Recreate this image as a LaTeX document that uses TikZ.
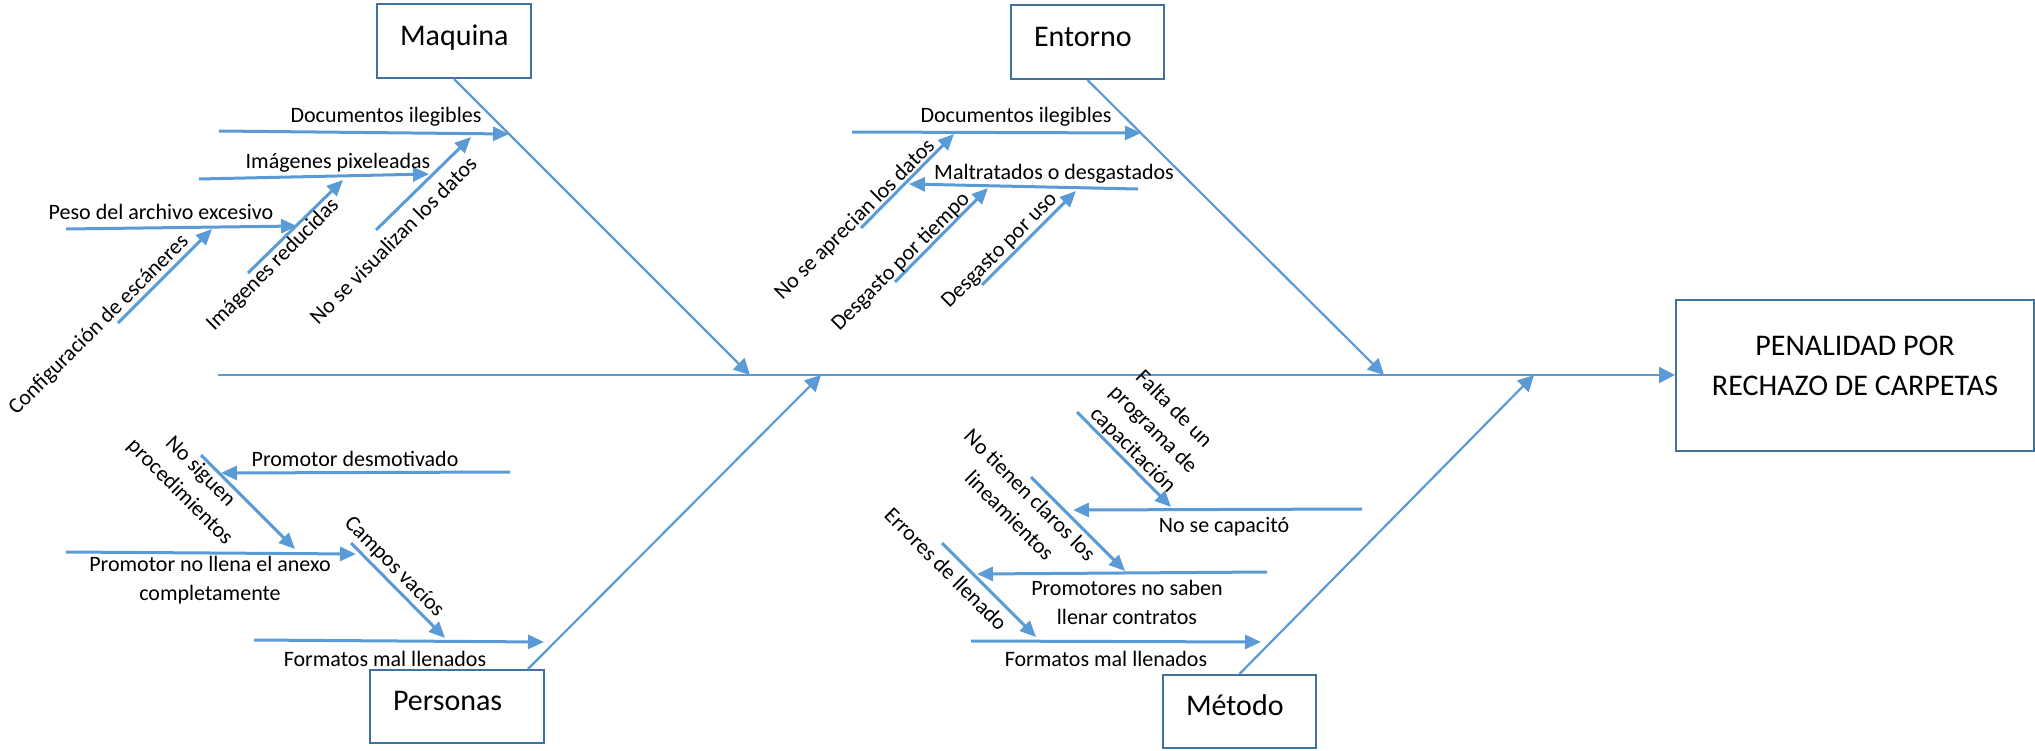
\documentclass[tikz,border=0pt]{standalone}
\usepackage{fontspec}
\setmainfont{Carlito}
\usepackage{tikz}
\usetikzlibrary{arrows.meta,calc}
\definecolor{hueso}{HTML}{5B9BD5}
\definecolor{marco}{HTML}{41719C}

\begin{document}
\begin{tikzpicture}[x=0.5pt,y=-0.5pt,
  flecha/.style={draw=hueso,line width=1.5pt,-{Triangle[length=8pt,width=7pt]}},
  espina/.style={draw=hueso,line width=1.1pt,-{Triangle[length=8pt,width=8pt]}},
  etiq/.style={font=\fontsize{11}{14.5}\selectfont,inner sep=0pt,align=center},
  causa/.style={draw=marco,line width=1pt,inner xsep=11.5pt,align=left,minimum height=37pt,text height=10pt,text depth=6pt,font=\fontsize{15}{18}\selectfont}]
\useasboundingbox (0,0) rectangle (2035,750);

\node[causa,text width=54pt] (maq) at (454,41) {Maquina};
\node[causa,text width=53.5pt] (ent) at (1087.5,42) {Entorno};
\node[causa,text width=64pt,minimum height=36.5pt] (per) at (457,706.5) {Personas};
\node[causa,text width=53.5pt,minimum height=36.5pt] (met) at (1239.5,711.5) {Método};
\node[draw=marco,line width=1pt,minimum width=179pt,minimum height=75.5pt,align=center,text height=30pt,text depth=10pt,font=\fontsize{15}{20}\selectfont] (efe) at (1855,375) {PENALIDAD POR\\RECHAZO DE CARPETAS};

\coordinate[] (S) at (218,375);
\coordinate[] (A) at (750,375);
\coordinate[] (B) at (1384,375);
\coordinate[] (C) at (821,375);
\coordinate[] (D) at (1534,375);
\coordinate[] (P) at ($(per.north east)+(-17,0)$);

\draw[espina] (S) -- (efe.west);
\draw[espina] (maq.south) -- (A);
\draw[espina] (ent.south) -- (B);
\draw[espina] (P) -- (C);
\draw[espina] (met.north) -- (D);

\coordinate[] (M1) at (219,131);
\coordinate[] (M2) at (509,134);
\coordinate[] (M3) at (199,179);
\coordinate[] (M4) at (429,174);
\coordinate[] (M5) at (66,229);
\coordinate[] (M6) at (297,226);
\coordinate[] (M7) at (118,323);
\coordinate[] (M8) at (212,229);
\coordinate[] (M9) at (248,273);
\coordinate[] (M10) at (343,180);
\coordinate[] (M11) at (376,230);
\coordinate[] (M12) at (471,137);

\coordinate[] (E1) at (852,132);
\coordinate[] (E2) at (1141,133);
\coordinate[] (E3) at (1138,189);
\coordinate[] (E4) at (909,184);
\coordinate[] (E5) at (861,228);
\coordinate[] (E6) at (954,134);
\coordinate[] (E7) at (895,282);
\coordinate[] (E8) at (988,188);
\coordinate[] (E9) at (982,285);
\coordinate[] (E10) at (1076,191);

\coordinate[] (P1) at (510,472);
\coordinate[] (P2) at (221,473);
\coordinate[] (P3) at (201,455);
\coordinate[] (P4) at (295,549);
\coordinate[] (P5) at (66,552);
\coordinate[] (P6) at (356,554);
\coordinate[] (P7) at (351,543);
\coordinate[] (P8) at (445,638);
\coordinate[] (P9) at (254,640);
\coordinate[] (P10) at (544,642);

\coordinate[] (T1) at (1362,509);
\coordinate[] (T2) at (1073,510);
\coordinate[] (T3) at (1077,412);
\coordinate[] (T4) at (1171,507);
\coordinate[] (T5) at (1267,572);
\coordinate[] (T6) at (977,574);
\coordinate[] (T7) at (1031,477);
\coordinate[] (T8) at (1125,571);
\coordinate[] (T9) at (971,641);
\coordinate[] (T10) at (1261,642);
\coordinate[] (T11) at (942,543);
\coordinate[] (T12) at (1036,637);

\draw[flecha] (M1) -- (M2);
\draw[flecha] (M3) -- (M4);
\draw[flecha] (M5) -- (M6);
\draw[flecha] (M7) -- (M8);
\draw[flecha] (M9) -- (M10);
\draw[flecha] (M11) -- (M12);
\draw[flecha] (E1) -- (E2);
\draw[flecha] (E3) -- (E4);
\draw[flecha] (E5) -- (E6);
\draw[flecha] (E7) -- (E8);
\draw[flecha] (E9) -- (E10);
\draw[flecha] (P1) -- (P2);
\draw[flecha] (P3) -- (P4);
\draw[flecha] (P5) -- (P6);
\draw[flecha] (P7) -- (P8);
\draw[flecha] (P9) -- (P10);
\draw[flecha] (T1) -- (T2);
\draw[flecha] (T3) -- (T4);
\draw[flecha] (T5) -- (T6);
\draw[flecha] (T7) -- (T8);
\draw[flecha] (T9) -- (T10);
\draw[flecha] (T11) -- (T12);

\node[etiq] (lm1) at (386,117) {Documentos ilegibles};
\node[etiq] (lm2) at (338,163) {Imágenes pixeleadas};
\node[etiq] (lm3) at (161,212) {Peso del archivo excesivo};
\node[etiq,rotate=45] (lm4) at (99,325) {Configuración de escáneres};
\node[etiq,rotate=45] (lm5) at (273,265) {Imágenes reducidas};
\node[etiq,rotate=45] (lm6) at (393,240) {No se visualizan los datos};

\node[etiq] (le1) at (1016,117) {Documentos ilegibles};
\node[etiq] (le2) at (1054,174) {Maltratados o desgastados};
\node[etiq,rotate=45] (le3) at (855,220) {No se aprecian los datos};
\node[etiq,rotate=45] (le4) at (901,262) {Desgasto por tiempo};
\node[etiq,rotate=45] (le5) at (1000,251) {Desgasto por uso};

\node[etiq] (lp1) at (355,459) {Promotor desmotivado};
\node[etiq,rotate=-45] (lp2) at (190,482) {No siguen\\procedimientos};
\node[etiq] (lp3) at (210,580) {Promotor no llena el anexo\\completamente};
\node[etiq,rotate=-45] (lp4) at (394,567) {Campos vacíos};
\node[etiq] (lp5) at (385,659) {Formatos mal llenados};

\node[etiq] (lt1) at (1224,527) {No se capacitó};
\node[etiq,rotate=-45] (lt2) at (1153,430) {Falta de un\\programa de\\capacitación};
\node[etiq] (lt3) at (1127,602) {Promotores no saben\\llenar contratos};
\node[etiq,rotate=-45] (lt4) at (1020,505) {No tienen claros los\\lineamientos};
\node[etiq] (lt5) at (1106,659) {Formatos mal llenados};
\node[etiq,rotate=-45] (lt6) at (946,569) {Errores de llenado};

\end{tikzpicture}
\end{document}
